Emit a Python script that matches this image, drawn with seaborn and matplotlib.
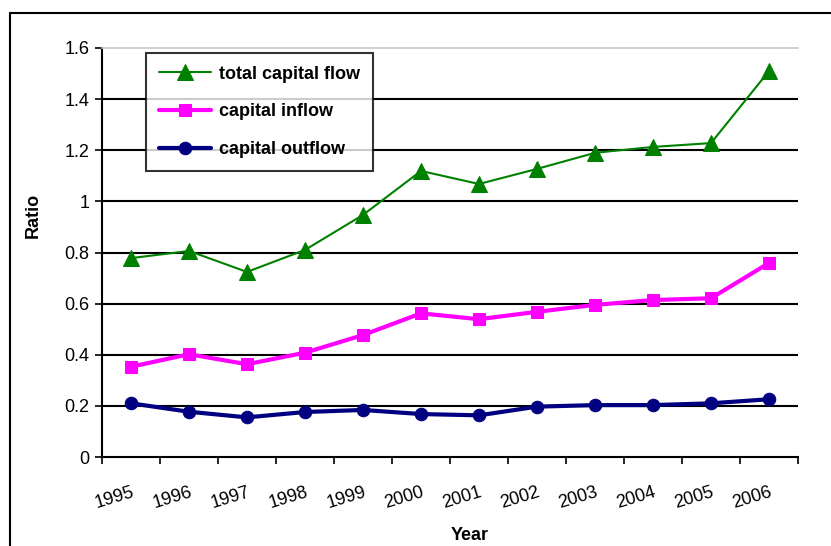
import matplotlib
matplotlib.use("Agg")
import matplotlib.pyplot as plt
import seaborn as sns
import pandas as pd
from matplotlib.lines import Line2D

years = ["1995", "1996", "1997", "1998", "1999", "2000", "2001", "2002", "2003", "2004", "2005", "2006"]
total_flow = [0.778, 0.806, 0.724, 0.810, 0.947, 1.119, 1.068, 1.127, 1.190, 1.213, 1.228, 1.510]
inflow = [0.353, 0.402, 0.363, 0.408, 0.477, 0.562, 0.539, 0.568, 0.595, 0.614, 0.621, 0.759]
outflow = [0.210, 0.177, 0.155, 0.176, 0.184, 0.168, 0.163, 0.197, 0.203, 0.203, 0.210, 0.226]
y_ticks = [0, 0.2, 0.4, 0.6, 0.8, 1, 1.2, 1.4, 1.6]
y_tick_labels = ["0", "0.2", "0.4", "0.6", "0.8", "1", "1.2", "1.4", "1.6"]

sns.set_style("white")
plt.rcParams["font.family"] = ["Liberation Sans", "DejaVu Sans"]
plt.rcParams["text.color"] = "black"
plt.rcParams["xtick.color"] = "black"
plt.rcParams["ytick.color"] = "black"
plt.rcParams["axes.labelcolor"] = "black"

fig = plt.figure(figsize=(8.31, 5.46), dpi=100)
ax = fig.add_axes([102/831, 1-457/546, (798-102)/831, (457-48)/546])

idx = list(range(len(years)))
df = pd.DataFrame({"idx": idx, "total": total_flow, "inflow": inflow, "outflow": outflow})

sns.lineplot(data=df, x="idx", y="total", ax=ax, color="#008000", lw=1.5,
             marker="^", markersize=11, markeredgecolor="#008000", label="total capital flow")
sns.lineplot(data=df, x="idx", y="inflow", ax=ax, color="#FF00FF", lw=3,
             marker="s", markersize=9, markeredgecolor="#FF00FF", label="capital inflow")
sns.lineplot(data=df, x="idx", y="outflow", ax=ax, color="#000080", lw=3,
             marker="o", markersize=9, markeredgecolor="#000080", label="capital outflow")

ax.set_xlim(-0.5, len(years) - 0.5)
ax.set_ylim(0, 1.6)
ax.set_yticks(y_ticks)
ax.set_yticklabels(y_tick_labels, fontsize=13)
for yv in y_ticks[1:-1]:
    ax.axhline(yv, color="black", lw=1.5, zorder=0)

ax.set_xticks([i - 0.5 for i in range(len(years) + 1)])
ax.set_xticklabels([])
ax.set_xticks(idx, minor=True)
ax.set_xticklabels(years, minor=True, fontsize=13, rotation=17, ha="right",
                   va="top", rotation_mode="anchor")
ax.tick_params(axis="x", which="major", direction="out", length=5, width=1.2, color="black", bottom=True)
ax.tick_params(axis="x", which="minor", length=0, pad=19, bottom=True)
ax.tick_params(axis="y", direction="out", length=5, width=1.2, color="black", left=True, pad=4)

ax.set_xlabel("")
ax.set_ylabel("")
for s in ["left", "bottom"]:
    ax.spines[s].set_color("black")
    ax.spines[s].set_linewidth(1.5)
ax.spines["right"].set_visible(False)
ax.spines["top"].set_color("#c8c8c8")
ax.spines["top"].set_linewidth(1.2)

fig.text(470/831, 1-535/546, "Year", fontsize=13, fontweight="bold", ha="center", va="center")
fig.text(33/831, 1-215/546, "Ratio", fontsize=13, fontweight="bold", ha="center", va="center", rotation=90)

leg = ax.legend(loc="upper left", bbox_to_anchor=(146/831, 1-53/546), bbox_transform=fig.transFigure,
                frameon=True, fancybox=False, edgecolor="black",
                prop={"weight": "bold", "size": 13}, handlelength=2.9, labelspacing=1.15,
                borderpad=0.7, handletextpad=0.45, borderaxespad=0)
leg.get_frame().set_linewidth(1.5)

fig.add_artist(Line2D([10/831, 10/831], [0, 1-13/546], transform=fig.transFigure, color="black", lw=1.5))
fig.add_artist(Line2D([10/831, 1], [1-13/546, 1-13/546], transform=fig.transFigure, color="black", lw=1.5))

fig.savefig("out.png", dpi=100)
